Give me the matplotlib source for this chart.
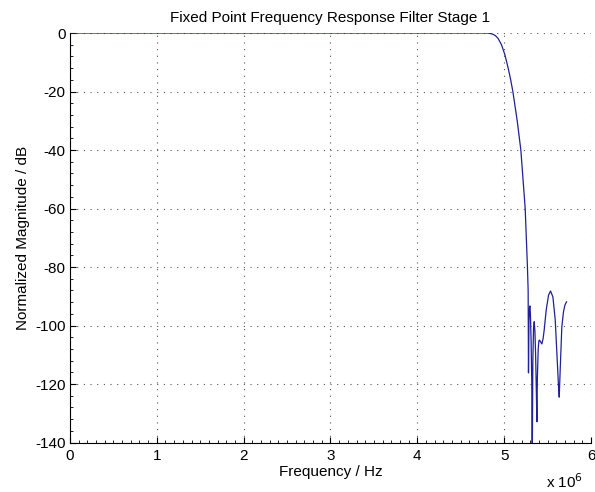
import numpy as np
import matplotlib
matplotlib.use("Agg")
import matplotlib.pyplot as plt
from matplotlib.ticker import MultipleLocator, FuncFormatter

plt.rcParams['font.family'] = ['Liberation Sans', 'DejaVu Sans']
plt.rcParams['axes.unicode_minus'] = False

# frequency in MHz, magnitude in dB
freq_mhz = [0.0, 4.78, 4.82, 4.86, 4.90, 4.931, 4.969, 5.008, 5.046, 5.075,
            5.100, 5.150, 5.192, 5.242, 5.268, 5.276, 5.280,
            5.286, 5.292, 5.296, 5.302, 5.310, 5.318, 5.323,
            5.330, 5.338, 5.346, 5.354, 5.362, 5.370, 5.377,
            5.382, 5.392, 5.400, 5.407, 5.420, 5.434,
            5.448, 5.461, 5.484, 5.511, 5.534, 5.561, 5.588, 5.607, 5.626, 5.634,
            5.645, 5.664, 5.683, 5.700, 5.718]
mag_db = [0.0, 0.0, -0.05, -0.3, -0.9, -1.9, -4.0, -7.4, -12.0, -16.0,
          -20.0, -30.0, -40.0, -60.0, -80.0, -88.0, -116.2,
          -98.0, -94.0, -93.3, -96.0, -105.0, -120.0, -150.0,
          -112.0, -101.0, -98.7, -102.0, -110.0, -122.0, -132.9,
          -118.0, -108.0, -105.2, -105.0, -105.6, -106.3,
          -104.5, -101.5, -94.7, -89.6, -88.2, -90.2, -98.1, -109.5, -120.9, -124.5,
          -115.2, -100.4, -95.3, -93.0, -91.9]

freq_hz = np.array(freq_mhz) * 1e6

fig = plt.figure(figsize=(5.95, 4.92), dpi=100)
ax = fig.add_axes([0.1176, 0.1006, 0.8757, 0.8323])
ax.plot(freq_hz, mag_db, color='#20209a', linewidth=0.9)

ax.set_xlim(0, 6e6)
ax.set_ylim(-140, 0)
ax.xaxis.set_major_locator(MultipleLocator(1e6))
ax.xaxis.set_minor_locator(MultipleLocator(1e5))
ax.yaxis.set_major_locator(MultipleLocator(20))
ax.yaxis.set_minor_locator(MultipleLocator(4))
ax.xaxis.set_major_formatter(FuncFormatter(lambda v, p: '%g' % (v / 1e6)))
ax.tick_params(which='both', direction='in', labelsize=11)
ax.tick_params(axis='x', pad=5)
ax.tick_params(axis='y', pad=3)
ax.tick_params(which='major', length=4)
ax.tick_params(which='minor', length=2)

for s in ['top', 'right']:
    ax.spines[s].set_visible(False)
ax.grid(True, which='major', linestyle=(0, (1, 5)), color='#555555', linewidth=0.8)

ax.set_title('Fixed Point Frequency Response Filter Stage 1', fontsize=11, pad=8)
ax.set_xlabel('Frequency / Hz', fontsize=11, labelpad=1)
ax.set_ylabel('Normalized Magnitude / dB', fontsize=11, labelpad=4)
fig.text(0.918, 0.022, r'x 10$^{6}$', fontsize=11, ha='left', va='center')

fig.savefig('out.png', dpi=100)
